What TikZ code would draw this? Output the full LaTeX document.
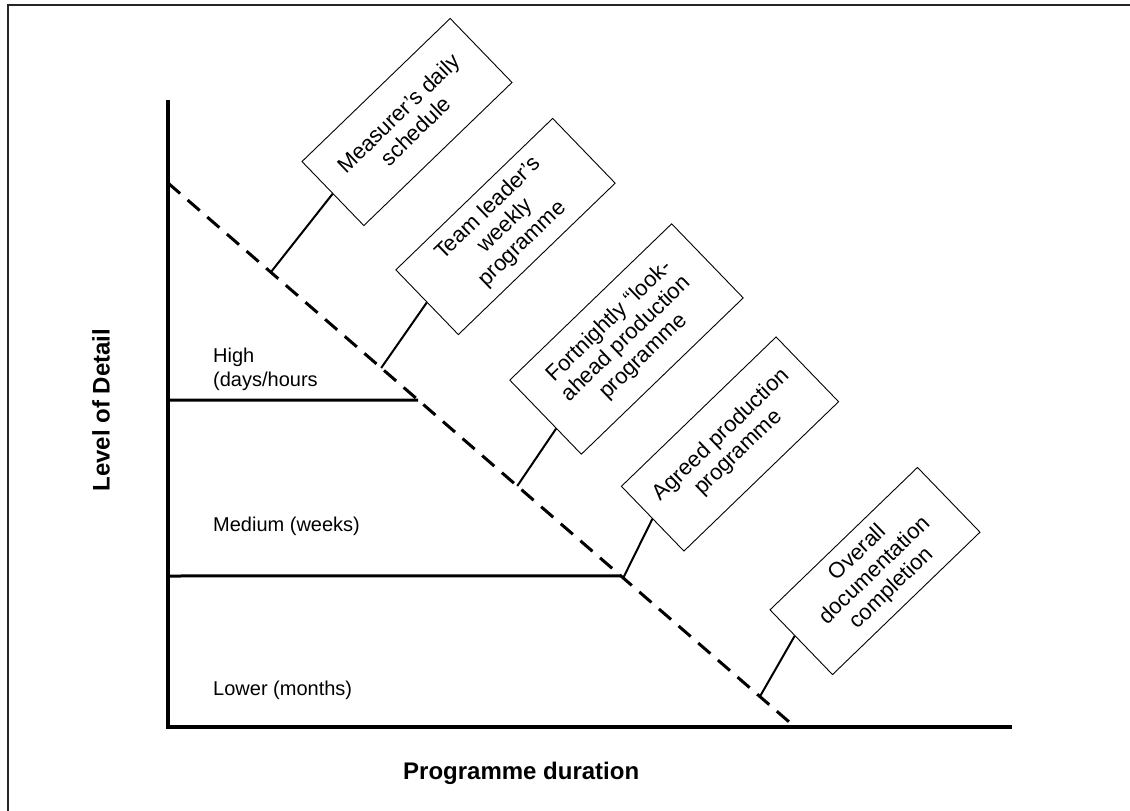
\documentclass[tikz,border=0pt]{standalone}
\usepackage{fontspec}
\setmainfont{Liberation Sans}
\usetikzlibrary{calc}
\begin{document}
\begin{tikzpicture}[x=1pt,y=-1pt,
  stage/.style={draw, line width=0.9pt, rotate=44, align=center, inner sep=0pt,
    font=\fontsize{22}{24.5}\selectfont},
  level/.style={anchor=west, align=left, inner sep=0pt, font=\fontsize{20}{24}\selectfont},
  title/.style={inner sep=0pt, font=\bfseries\fontsize{24}{28}\selectfont},
  axis/.style={line width=3.5pt, line join=miter},
  band/.style={line width=3pt},
  link/.style={line width=2pt},
  divide/.style={line width=3pt, dash pattern=on 16pt off 10pt}]
\useasboundingbox (0,0) rectangle (1130,811);
\clip (0,0) rectangle (1130,811);
% outer frame
\draw[line width=1.5pt, black!85] (8,5) rectangle (1140,820);

% axes
\coordinate (ytop) at (168,100);
\coordinate (o) at (168,727);
\coordinate (xend) at (1012,727);
\draw[axis] (ytop) -- (o) -- (xend);

% dashed boundary
\coordinate (d0) at (168,183);
\coordinate (d1) at (795,727);
\draw[divide] (d0) -- (d1);

% level bands
\coordinate (hi0) at (168,400);
\coordinate (hi1) at ($(d0)!0.399!(d1)$);
\coordinate (me0) at (168,576);
\coordinate (me1) at ($(d0)!0.722!(d1)$);
\draw[band] (hi0) -- (hi1);
\draw[band] (me0) -- (me1);

% level labels
\node[level] (hi) at (213,369) {High\\(days/hours};
\node[level] (me) at (213,526) {Medium (weeks)};
\node[level] (lo) at (213,690) {Lower (months)};

% axis titles
\node[title, rotate=90] (ylab) at (101,410) {Level of Detail};
\node[title, anchor=west] (xlab) at (403,773) {Programme duration};

% programme boxes
\node[stage, minimum width=206pt, minimum height=89pt] (m) at (407,122) {Measurer’s daily\\schedule};
\node[stage, minimum width=218pt, minimum height=90pt] (t) at (505.5,226.5) {Team leader’s\\weekly\\programme};
\node[stage, minimum width=225pt, minimum height=103pt] (f) at (626.5,339) {Fortnightly “look-\\ahead production\\programme};
\node[stage, minimum width=215pt, minimum height=90pt] (a) at (730,444) {Agreed production\\programme};
\node[stage, minimum width=205pt, minimum height=90pt] (v) at (875,571) {Overall\\documentation\\completion};

% attachment points on the boundary
\coordinate (cm) at ($(d0)!0.164!(d1)$);
\coordinate (ct) at ($(d0)!0.340!(d1)$);
\coordinate (cf) at ($(d0)!0.557!(d1)$);
\coordinate (ca) at ($(d0)!0.726!(d1)$);
\coordinate (cv) at ($(d0)!0.944!(d1)$);

\draw[link] (m.west) -- (cm);
\draw[link] (t.west) -- (ct);
\draw[link] ($(f.north west)!0.65!(f.south west)$) -- (cf);
\draw[link] (a.west) -- (ca);
\draw[link] ($(v.north west)!0.4!(v.south west)$) -- (cv);
\end{tikzpicture}
\end{document}
